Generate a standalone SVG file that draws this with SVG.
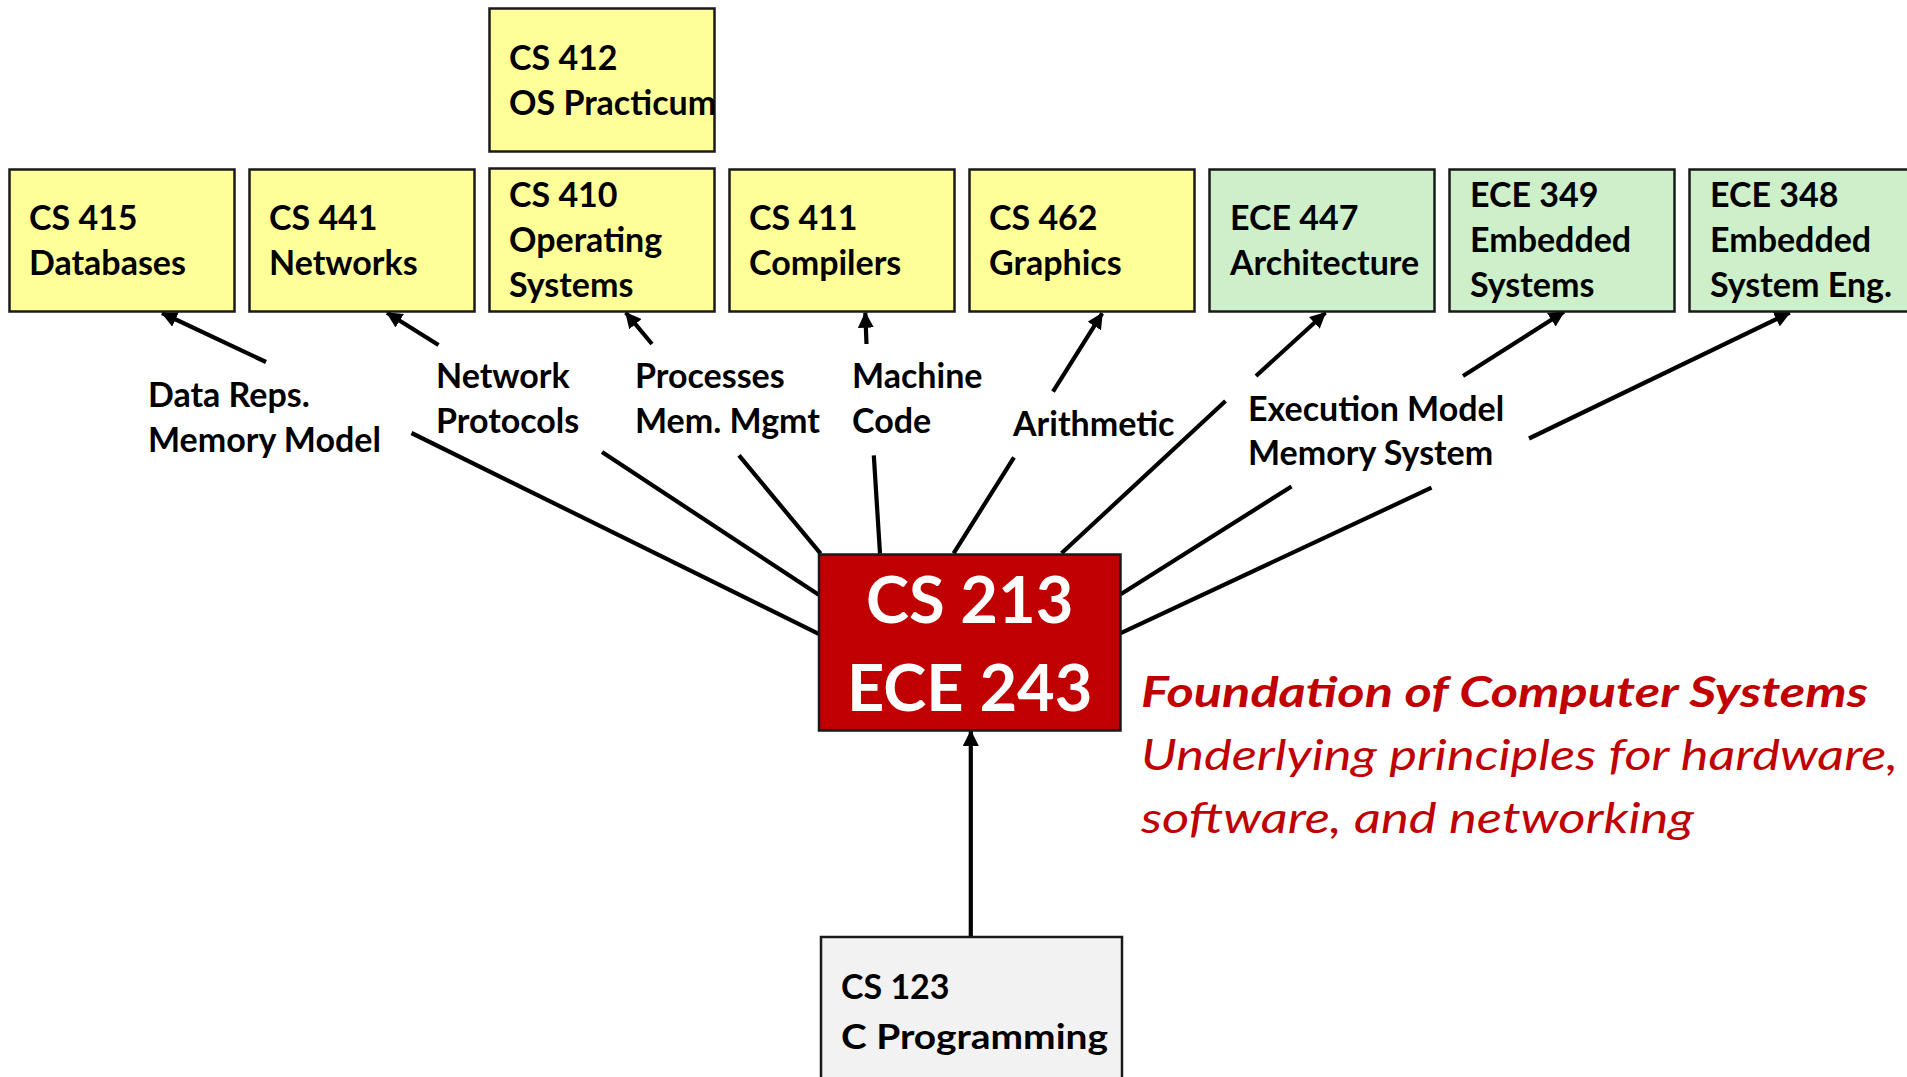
<svg xmlns="http://www.w3.org/2000/svg" width="1907" height="1077" viewBox="0 0 1907 1077">
  <defs>
    <marker id="arrow" viewBox="0 0 16 16" refX="15" refY="8" markerWidth="16" markerHeight="16" markerUnits="userSpaceOnUse" orient="auto">
      <path d="M0,0 L16,8 L0,16 Z" fill="#000"/>
    </marker>
    <style>
      .course { stroke: #1a1a1a; stroke-width: 2.5; }
      .cs { fill: #FFFF99; }
      .ece { fill: #CDEFCA; }
      .t { font-family: Lato, "Open Sans", sans-serif; font-weight: 700; font-size: 34px; fill: #000; }
      .lbl { font-family: Lato, "Open Sans", sans-serif; font-weight: 700; font-size: 34px; fill: #000; }
      .conn { stroke: #000; stroke-width: 4.2; fill: none; }
      .core { font-family: Lato, "Open Sans", sans-serif; font-weight: 700; font-size: 65px; fill: #fff; text-anchor: middle; }
      .red { font-family: Lato, "Open Sans", sans-serif; font-style: italic; fill: #C00000; font-size: 42px; }
    </style>
  </defs>
  <rect width="1907" height="1077" fill="#fff"/>

  <!-- connectors: each runs from CS 213 up to a course, broken where its label sits -->
  <g id="connectors">
    <path class="conn" d="M818.7,633.8 L411.5,433 M266,362 L162,313" marker-end="url(#arrow)"/>
    <path class="conn" d="M818.7,594.8 L602,452 M438.5,345 L387,312.7" marker-end="url(#arrow)"/>
    <path class="conn" d="M820.6,553.7 L739,455.4 M652,344 L625.8,312.7" marker-end="url(#arrow)"/>
    <path class="conn" d="M880,553.7 L873.8,455.4 M866.5,344 L865.3,312.7" marker-end="url(#arrow)"/>
    <path class="conn" d="M953.6,553.3 L1014,457.4 M1053,391.7 L1102.2,313.3" marker-end="url(#arrow)"/>
    <path class="conn" d="M1061.5,553.3 L1225.5,401 M1256,376 L1325.4,312.7" marker-end="url(#arrow)"/>
    <path class="conn" d="M1120.7,594.3 L1291.5,486.5 M1463,376 L1564,311.7" marker-end="url(#arrow)"/>
    <path class="conn" d="M1120.7,633.2 L1431.5,487.7 M1529,438.5 L1789.8,312.7" marker-end="url(#arrow)"/>
    <path class="conn" d="M970.8,937 L970.8,731" marker-end="url(#arrow)"/>
  </g>

  <!-- connector labels -->
  <g id="labels">
    <text class="lbl" x="148" y="407">Data Reps.</text>
    <text class="lbl" x="148" y="452">Memory Model</text>
    <text class="lbl" x="436" y="388">Network</text>
    <text class="lbl" x="436" y="433">Protocols</text>
    <text class="lbl" x="635" y="388">Processes</text>
    <text class="lbl" x="635" y="433">Mem. Mgmt</text>
    <text class="lbl" x="852" y="388">Machine</text>
    <text class="lbl" x="852" y="433">Code</text>
    <text class="lbl" x="1013" y="436">Arithmetic</text>
    <text class="lbl" x="1248" y="421">Execution Model</text>
    <text class="lbl" x="1248" y="465">Memory System</text>
  </g>

  <g id="cs412">
    <rect class="course cs" x="489.5" y="8.5" width="225" height="143"/>
    <text class="t" x="509" y="70">CS 412</text>
    <text class="t" x="509" y="115">OS Practicum</text>
  </g>
  <g id="cs415">
    <rect class="course cs" x="9.5" y="169.5" width="225" height="142"/>
    <text class="t" x="29" y="230">CS 415</text>
    <text class="t" x="29" y="275">Databases</text>
  </g>
  <g id="cs441">
    <rect class="course cs" x="249.5" y="169.5" width="225" height="142"/>
    <text class="t" x="269" y="230">CS 441</text>
    <text class="t" x="269" y="275">Networks</text>
  </g>
  <g id="cs410">
    <rect class="course cs" x="489.5" y="168.5" width="225" height="143"/>
    <text class="t" x="509" y="207">CS 410</text>
    <text class="t" x="509" y="252">Operating</text>
    <text class="t" x="509" y="297">Systems</text>
  </g>
  <g id="cs411">
    <rect class="course cs" x="729.5" y="169.5" width="225" height="142"/>
    <text class="t" x="749" y="230">CS 411</text>
    <text class="t" x="749" y="275">Compilers</text>
  </g>
  <g id="cs462">
    <rect class="course cs" x="969.5" y="169.5" width="225" height="142"/>
    <text class="t" x="989" y="230">CS 462</text>
    <text class="t" x="989" y="275">Graphics</text>
  </g>
  <g id="ece447">
    <rect class="course ece" x="1209.5" y="169.5" width="225" height="142"/>
    <text class="t" x="1230" y="230">ECE 447</text>
    <text class="t" x="1230" y="275">Architecture</text>
  </g>
  <g id="ece349">
    <rect class="course ece" x="1449.5" y="169.5" width="225" height="142"/>
    <text class="t" x="1470" y="207">ECE 349</text>
    <text class="t" x="1470" y="252">Embedded</text>
    <text class="t" x="1470" y="297">Systems</text>
  </g>
  <g id="ece348">
    <rect class="course ece" x="1689.5" y="169.5" width="225" height="142"/>
    <text class="t" x="1710" y="207">ECE 348</text>
    <text class="t" x="1710" y="252">Embedded</text>
    <text class="t" x="1710" y="297">System Eng.</text>
  </g>

  <g id="cs213">
    <rect x="819" y="554.5" width="301.5" height="176" fill="#C00000" stroke="#1a1a1a" stroke-width="2.5"/>
    <text class="core" x="969.7" y="623">CS 213</text>
    <text class="core" x="969.7" y="711">ECE 243</text>
  </g>

  <g id="cs123">
    <rect x="821" y="937" width="301" height="150" fill="#F2F2F2" stroke="#1a1a1a" stroke-width="2.5"/>
    <text class="t" x="841" y="999" font-size="39">CS 123</text>
    <text class="t" x="841" y="1049" font-size="39" textLength="267" lengthAdjust="spacingAndGlyphs">C Programming</text>
  </g>

  <g id="tagline">
    <text class="red" x="1141" y="707" font-weight="700" textLength="727" lengthAdjust="spacingAndGlyphs">Foundation of Computer Systems</text>
    <text class="red" x="1141" y="770" textLength="757" lengthAdjust="spacingAndGlyphs">Underlying principles for hardware,</text>
    <text class="red" x="1141" y="833" textLength="553" lengthAdjust="spacingAndGlyphs">software, and networking</text>
  </g>
</svg>
